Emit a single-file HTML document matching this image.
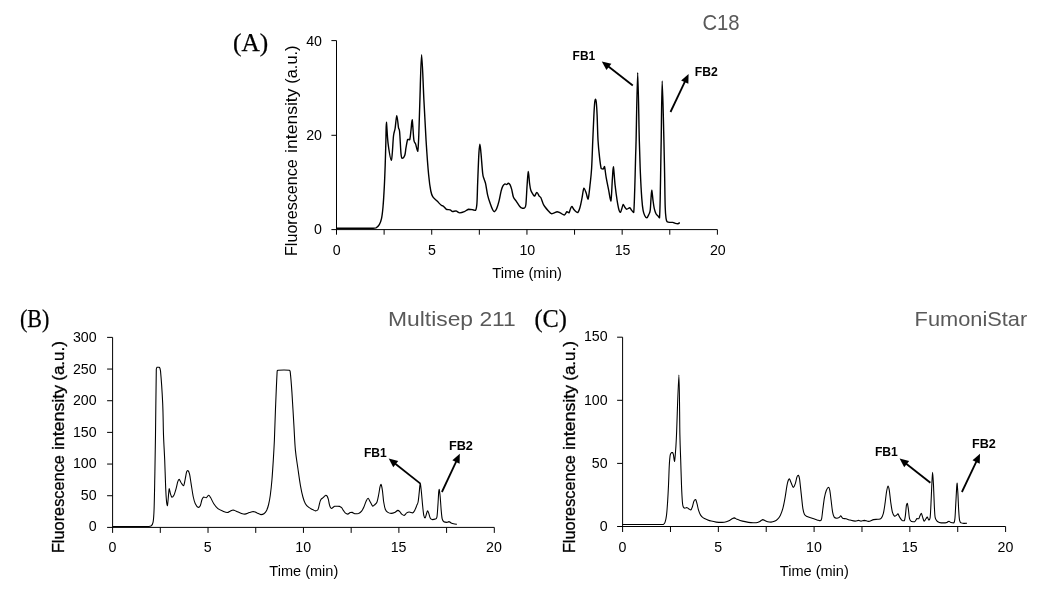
<!DOCTYPE html>
<html><head><meta charset="utf-8"><title>Chromatograms</title>
<style>
html,body{margin:0;padding:0;background:#fff;}
body{width:1053px;height:597px;overflow:hidden;font-family:"Liberation Sans",sans-serif;}
svg{display:block;filter:grayscale(1);}
</style></head><body>
<svg width="1053" height="597" viewBox="0 0 1053 597">
<rect width="1053" height="597" fill="#fff"/>
<g fill="none" stroke="#000" stroke-width="1.0" stroke-linecap="butt"><path d="M336.50 40.60 V229.60" /><path d="M331.40 229.60 H717.40" /><path d="M331.40 135.30 H336.50" /><path d="M331.40 40.60 H336.50" /><path d="M336.50 229.60 V234.70" /><path d="M384.11 229.60 V234.70" /><path d="M431.73 229.60 V234.70" /><path d="M479.34 229.60 V234.70" /><path d="M526.95 229.60 V234.70" /><path d="M574.56 229.60 V234.70" /><path d="M622.17 229.60 V234.70" /><path d="M669.79 229.60 V234.70" /><path d="M717.40 229.60 V234.70" /></g>
<path d="M336.40 228.20 C340.33 228.20 354.07 228.20 360.00 228.20 C365.93 228.20 369.33 228.20 372.00 228.20 C374.67 228.15 374.78 228.20 376.00 227.90 C377.22 227.30 378.38 226.13 379.30 224.60 C380.22 223.07 380.88 221.63 381.50 218.70 C382.12 215.77 382.53 212.30 383.00 207.00 C383.47 201.70 383.93 193.88 384.30 186.90 C384.67 179.92 384.93 172.92 385.20 165.10 C385.47 157.28 385.70 147.17 385.90 140.00 C386.10 132.83 386.03 122.10 386.40 122.10 C386.77 122.70 387.27 137.25 388.10 143.60 C388.93 149.95 390.50 160.20 391.40 160.20 C392.30 158.93 392.88 141.28 393.50 136.00 C394.12 130.72 394.55 131.90 395.10 128.50 C395.65 125.10 396.23 115.75 396.80 115.60 C397.37 115.60 398.03 124.90 398.50 127.60 C398.97 130.30 399.18 127.60 399.60 131.80 C400.02 136.13 400.58 149.17 401.00 153.60 C401.42 158.03 401.47 158.12 402.10 158.40 C402.73 158.40 404.15 157.08 404.80 155.30 C405.45 153.52 405.52 150.35 406.00 147.70 C406.48 145.05 407.08 140.73 407.70 139.40 C408.32 139.40 409.15 139.70 409.70 139.70 C410.25 138.17 410.58 133.52 411.00 130.20 C411.42 126.88 411.72 119.80 412.20 119.80 C412.68 121.47 413.33 136.18 413.90 140.20 C414.47 143.90 414.97 142.03 415.60 143.90 C416.23 145.77 417.17 151.40 417.70 151.40 C418.23 149.92 418.43 143.57 418.80 135.00 C419.17 126.43 419.43 113.38 419.90 100.00 C420.37 86.62 420.93 54.70 421.60 54.70 C422.27 54.70 423.15 85.62 423.90 100.00 C424.65 114.38 425.32 128.58 426.10 141.00 C426.88 153.42 427.82 166.17 428.60 174.50 C429.38 182.83 430.08 187.27 430.80 191.00 C431.52 194.73 431.85 195.22 432.90 196.90 C433.95 198.58 435.70 199.70 437.10 201.10 C438.50 202.50 440.25 204.45 441.30 205.30 C442.35 206.15 442.50 205.50 443.40 206.20 C444.30 206.90 445.58 208.90 446.70 209.50 C447.82 209.80 449.12 209.50 450.10 209.80 C451.08 210.13 451.63 211.32 452.60 211.50 C453.57 211.50 454.70 210.90 455.90 210.90 C457.10 211.13 458.40 212.77 459.80 212.90 C461.20 212.90 462.85 212.32 464.30 211.70 C465.75 211.08 467.10 209.53 468.50 209.20 C469.90 209.20 471.53 209.50 472.70 209.70 C473.87 209.90 474.80 210.40 475.50 210.40 C476.20 209.40 476.53 208.45 476.90 203.70 C477.27 198.95 477.37 190.28 477.70 181.90 C478.03 173.52 478.53 159.68 478.90 153.40 C479.27 147.12 479.55 144.20 479.90 144.20 C480.25 144.20 480.53 148.52 481.00 153.40 C481.47 158.28 482.22 169.32 482.70 173.50 C483.18 177.68 483.42 176.82 483.90 178.50 C484.38 180.18 484.97 180.80 485.60 183.60 C486.23 186.40 486.92 191.95 487.70 195.30 C488.48 198.65 489.45 201.25 490.30 203.70 C491.15 206.15 492.12 208.67 492.80 210.00 C493.48 211.33 493.77 211.70 494.40 211.70 C495.03 211.48 495.83 210.47 496.60 208.70 C497.37 206.93 498.25 204.03 499.00 201.10 C499.75 198.17 500.47 193.60 501.10 191.10 C501.73 188.60 502.15 187.30 502.80 186.10 C503.45 184.90 504.35 184.15 505.00 183.90 C505.65 183.90 506.15 184.60 506.70 184.60 C507.25 184.48 507.75 183.20 508.30 183.20 C508.85 183.20 509.43 183.57 510.00 184.60 C510.57 185.63 511.13 187.33 511.70 189.40 C512.27 191.47 512.65 195.05 513.40 197.00 C514.15 198.95 515.17 199.57 516.20 201.10 C517.23 202.63 518.62 205.02 519.60 206.20 C520.58 207.38 521.27 207.93 522.10 208.20 C522.93 208.20 523.97 208.20 524.60 207.80 C525.23 207.18 525.48 207.80 525.90 204.50 C526.32 200.73 526.70 190.70 527.10 185.20 C527.50 179.70 527.88 171.77 528.30 171.50 C528.72 171.50 529.18 180.47 529.60 183.60 C530.02 186.73 530.23 188.50 530.80 190.30 C531.37 192.10 532.37 193.43 533.00 194.40 C533.63 195.37 533.95 196.10 534.60 196.10 C535.25 195.77 536.13 192.40 536.90 192.40 C537.67 192.40 538.53 195.20 539.20 196.10 C539.87 197.00 540.25 196.53 540.90 197.80 C541.55 199.07 542.40 202.17 543.10 203.70 C543.80 205.23 544.22 205.80 545.10 207.00 C545.98 208.20 547.35 209.78 548.40 210.90 C549.45 212.02 550.42 213.37 551.40 213.70 C552.38 213.70 553.35 213.23 554.30 212.90 C555.25 212.57 556.12 211.70 557.10 211.70 C558.08 211.70 559.00 212.35 560.20 212.90 C561.40 213.45 563.18 215.00 564.30 215.00 C565.42 214.80 566.13 212.05 566.90 211.70 C567.67 211.70 568.30 212.90 568.90 212.90 C569.50 212.40 570.00 209.77 570.50 208.70 C571.00 207.63 571.33 206.50 571.90 206.50 C572.47 206.63 573.20 208.63 573.90 209.50 C574.60 210.37 575.43 211.20 576.10 211.70 C576.77 212.20 577.27 212.50 577.90 212.50 C578.53 211.85 579.23 210.12 579.90 207.80 C580.57 205.48 581.23 201.88 581.90 198.60 C582.57 195.32 583.20 189.07 583.90 188.10 C584.60 188.10 585.40 190.97 586.10 192.80 C586.80 194.63 587.45 199.10 588.10 199.10 C588.75 197.83 589.42 190.30 590.00 185.20 C590.58 180.10 591.13 176.03 591.60 168.50 C592.07 160.97 592.42 148.92 592.80 140.00 C593.18 131.08 593.58 121.25 593.90 115.00 C594.22 108.75 594.43 105.12 594.70 102.50 C594.97 99.88 595.23 99.30 595.50 99.30 C595.77 99.30 596.03 99.88 596.30 102.50 C596.57 105.12 596.82 108.75 597.10 115.00 C597.38 121.25 597.60 133.03 598.00 140.00 C598.40 146.97 598.97 152.05 599.50 156.80 C600.03 161.55 600.58 166.47 601.20 168.50 C601.82 169.00 602.65 169.00 603.20 169.00 C603.75 168.67 604.00 166.50 604.50 166.50 C605.00 167.95 605.50 173.73 606.20 177.70 C606.90 181.67 607.92 186.40 608.70 190.30 C609.48 194.20 610.28 201.10 610.90 201.10 C611.52 199.13 611.98 184.22 612.40 178.50 C612.82 172.78 612.95 166.80 613.40 166.80 C613.85 167.92 614.48 179.62 615.10 185.20 C615.72 190.78 616.43 196.10 617.10 200.30 C617.77 204.50 618.53 208.38 619.10 210.40 C619.67 212.40 620.05 212.40 620.50 212.40 C620.95 212.12 621.35 210.02 621.80 208.70 C622.25 207.38 622.68 204.73 623.20 204.50 C623.72 204.50 624.30 206.52 624.90 207.30 C625.50 208.08 626.00 209.12 626.80 209.20 C627.60 209.20 628.88 207.80 629.70 207.80 C630.52 208.00 631.03 209.62 631.70 210.40 C632.37 211.18 633.20 212.50 633.70 212.50 C634.20 209.15 634.38 199.58 634.70 190.30 C635.02 181.02 635.37 165.18 635.60 156.80 C635.83 148.42 635.75 154.03 636.10 140.00 C636.45 125.97 637.17 72.60 637.70 72.60 C638.23 72.60 638.85 123.18 639.30 140.00 C639.75 156.82 639.98 163.73 640.40 173.50 C640.82 183.27 641.35 192.45 641.80 198.60 C642.25 204.75 642.60 207.55 643.10 210.40 C643.60 213.25 644.18 214.45 644.80 215.70 C645.42 216.95 646.13 217.90 646.80 217.90 C647.47 217.70 648.23 215.75 648.80 214.50 C649.37 213.25 649.83 213.05 650.20 210.40 C650.57 207.75 650.73 201.95 651.00 198.60 C651.27 195.25 651.47 190.30 651.80 190.30 C652.13 190.58 652.58 197.23 653.00 200.30 C653.42 203.37 653.80 206.47 654.30 208.70 C654.80 210.93 655.35 212.45 656.00 213.70 C656.65 214.95 657.62 215.50 658.20 216.20 C658.78 216.90 659.17 217.90 659.50 217.90 C659.83 214.97 659.97 208.78 660.20 198.60 C660.43 188.42 660.73 166.57 660.90 156.80 C661.07 147.03 660.98 152.63 661.20 140.00 C661.42 127.37 661.75 81.00 662.20 81.00 C662.65 81.00 663.50 124.58 663.90 140.00 C664.30 155.42 664.38 162.33 664.60 173.50 C664.82 184.67 664.95 199.47 665.20 207.00 C665.45 214.53 665.77 216.25 666.10 218.70 C666.43 221.15 666.50 221.08 667.20 221.70 C667.90 222.32 669.37 222.28 670.30 222.40 C671.23 222.40 671.97 222.40 672.80 222.40 C673.63 222.57 674.47 223.17 675.30 223.40 C676.13 223.63 677.05 223.80 677.80 223.80 C678.55 223.67 679.47 222.80 679.80 222.60" fill="none" stroke="#000" stroke-width="1.4" stroke-linejoin="round"/>
<text x="322.00" y="234.00" font-size="14.2" text-anchor="end" fill="#000" font-weight="normal" font-family="'Liberation Sans', sans-serif">0</text>
<text x="322.00" y="139.90" font-size="14.2" text-anchor="end" fill="#000" font-weight="normal" font-family="'Liberation Sans', sans-serif">20</text>
<text x="322.00" y="45.90" font-size="14.2" text-anchor="end" fill="#000" font-weight="normal" font-family="'Liberation Sans', sans-serif">40</text>
<text x="336.80" y="254.90" font-size="14.2" text-anchor="middle" fill="#000" font-weight="normal" font-family="'Liberation Sans', sans-serif">0</text>
<text x="432.05" y="254.90" font-size="14.2" text-anchor="middle" fill="#000" font-weight="normal" font-family="'Liberation Sans', sans-serif">5</text>
<text x="527.30" y="254.90" font-size="14.2" text-anchor="middle" fill="#000" font-weight="normal" font-family="'Liberation Sans', sans-serif">10</text>
<text x="622.55" y="254.90" font-size="14.2" text-anchor="middle" fill="#000" font-weight="normal" font-family="'Liberation Sans', sans-serif">15</text>
<text x="717.80" y="254.90" font-size="14.2" text-anchor="middle" fill="#000" font-weight="normal" font-family="'Liberation Sans', sans-serif">20</text>
<text x="527.10" y="277.50" font-size="14.2" text-anchor="middle" fill="#000" font-weight="normal" font-family="'Liberation Sans', sans-serif" textLength="69.8" lengthAdjust="spacingAndGlyphs">Time (min)</text>
<text transform="translate(296.90,256.00) rotate(-90)" font-size="16.0" font-family="'Liberation Sans', sans-serif" textLength="96.7" lengthAdjust="spacingAndGlyphs">Fluorescence</text><text transform="translate(296.90,152.90) rotate(-90)" font-size="16.0" font-family="'Liberation Sans', sans-serif" textLength="64.4" lengthAdjust="spacingAndGlyphs">intensity</text><text transform="translate(296.90,83.70) rotate(-90)" font-size="16.0" font-family="'Liberation Sans', sans-serif" textLength="38.2" lengthAdjust="spacingAndGlyphs">(a.u.)</text>
<text x="233.00" y="50.80" font-size="25" text-anchor="start" fill="#000" font-weight="normal" font-family="'Liberation Serif', serif" textLength="35.2" lengthAdjust="spacingAndGlyphs" stroke="#000" stroke-width="0.25">(A)</text>
<text x="702.40" y="30.10" font-size="22.3" text-anchor="start" fill="#595959" font-weight="normal" font-family="'Liberation Sans', sans-serif" textLength="37.2" lengthAdjust="spacingAndGlyphs">C18</text>
<text x="572.60" y="60.20" font-size="12.8" text-anchor="start" fill="#000" font-weight="bold" font-family="'Liberation Sans', sans-serif" textLength="22.6" lengthAdjust="spacingAndGlyphs">FB1</text>
<text x="694.80" y="76.20" font-size="12.8" text-anchor="start" fill="#000" font-weight="bold" font-family="'Liberation Sans', sans-serif" textLength="23.0" lengthAdjust="spacingAndGlyphs">FB2</text>
<path d="M632.80 85.50 L608.12 66.31" stroke="#000" stroke-width="1.8" fill="none"/><path d="M601.80 61.40 L611.36 63.77 L606.45 70.08 Z" fill="#000"/>
<path d="M670.50 112.00 L685.16 81.22" stroke="#000" stroke-width="1.8" fill="none"/><path d="M688.60 74.00 L688.34 83.85 L681.12 80.41 Z" fill="#000"/>
<g fill="none" stroke="#000" stroke-width="1.0" stroke-linecap="butt"><path d="M112.60 337.40 V527.40" /><path d="M107.10 527.40 H494.30" /><path d="M107.10 495.73 H112.60" /><path d="M107.10 464.06 H112.60" /><path d="M107.10 432.39 H112.60" /><path d="M107.10 400.72 H112.60" /><path d="M107.10 369.05 H112.60" /><path d="M107.10 337.38 H112.60" /><path d="M112.60 527.40 V532.90" /><path d="M160.31 527.40 V532.90" /><path d="M208.03 527.40 V532.90" /><path d="M255.74 527.40 V532.90" /><path d="M303.45 527.40 V532.90" /><path d="M351.16 527.40 V532.90" /><path d="M398.88 527.40 V532.90" /><path d="M446.59 527.40 V532.90" /><path d="M494.30 527.40 V532.90" /></g>
<path d="M112.60 526.45 C117.17 526.45 134.10 526.45 140.00 526.45 C145.90 526.45 146.18 526.45 148.00 526.45 C149.82 526.39 150.05 526.45 150.90 526.10 C151.75 525.38 152.57 525.00 153.10 522.10 C153.63 519.20 153.82 516.23 154.10 508.70 C154.38 501.17 154.57 489.18 154.80 476.90 C155.03 464.62 155.25 452.93 155.50 435.00 C155.75 417.07 156.03 380.58 156.30 369.30 C156.57 367.30 156.60 367.63 157.10 367.30 C157.60 367.30 158.73 367.30 159.30 367.30 C159.87 367.90 159.93 367.30 160.50 370.90 C161.07 376.95 162.20 392.92 162.70 403.60 C163.20 414.28 163.17 425.58 163.50 435.00 C163.83 444.42 164.33 451.17 164.70 460.10 C165.07 469.03 165.40 481.75 165.70 488.60 C166.00 495.45 166.22 498.35 166.50 501.20 C166.78 504.05 167.12 505.70 167.40 505.70 C167.68 505.28 167.90 501.55 168.20 498.70 C168.50 495.85 168.83 489.45 169.20 488.60 C169.57 488.60 169.95 492.15 170.40 493.60 C170.85 495.05 171.32 497.02 171.90 497.30 C172.48 497.30 173.20 496.75 173.90 495.30 C174.60 493.85 175.47 490.83 176.10 488.60 C176.73 486.37 177.20 483.43 177.70 481.90 C178.20 480.37 178.53 479.40 179.10 479.40 C179.67 479.53 180.35 481.63 181.10 482.70 C181.85 483.77 182.90 485.80 183.60 485.80 C184.30 485.12 184.80 480.92 185.30 478.60 C185.80 476.28 186.18 473.25 186.60 471.90 C187.02 470.55 187.32 470.50 187.80 470.50 C188.28 470.83 188.95 471.72 189.50 473.90 C190.05 476.08 190.47 479.75 191.10 483.60 C191.73 487.45 192.60 493.65 193.30 497.00 C194.00 500.35 194.47 501.97 195.30 503.70 C196.13 505.43 197.45 507.12 198.30 507.40 C199.15 507.40 199.78 506.72 200.40 505.40 C201.02 504.08 201.45 500.90 202.00 499.50 C202.55 498.10 203.00 497.28 203.70 497.00 C204.40 497.00 205.37 497.80 206.20 497.80 C207.03 497.52 207.95 495.30 208.70 495.30 C209.45 495.30 209.85 496.40 210.70 497.80 C211.55 499.20 212.60 501.88 213.80 503.70 C215.00 505.52 216.37 507.45 217.90 508.70 C219.43 509.95 221.45 510.57 223.00 511.20 C224.55 511.83 226.02 512.50 227.20 512.50 C228.38 512.50 229.12 511.62 230.10 511.20 C231.08 510.78 231.98 510.00 233.10 510.00 C234.22 510.05 235.50 510.97 236.80 511.50 C238.10 512.03 239.57 512.77 240.90 513.20 C242.23 513.63 243.40 514.10 244.80 514.10 C246.20 514.00 247.90 513.03 249.30 512.60 C250.70 512.17 251.93 511.50 253.20 511.50 C254.47 511.55 255.60 512.38 256.90 512.90 C258.20 513.42 259.83 514.47 261.00 514.60 C262.17 514.60 262.97 514.40 263.90 513.70 C264.83 513.00 265.82 511.93 266.60 510.40 C267.38 508.87 267.98 507.02 268.60 504.50 C269.22 501.98 269.75 499.35 270.30 495.30 C270.85 491.25 271.40 486.07 271.90 480.20 C272.40 474.33 272.88 466.80 273.30 460.10 C273.72 453.40 274.03 448.58 274.40 440.00 C274.77 431.42 275.03 420.12 275.50 408.60 C275.97 397.08 276.75 377.28 277.20 370.90 C277.65 370.30 277.20 370.45 278.20 370.30 C279.33 370.15 282.13 370.00 284.00 370.00 C285.87 370.00 288.35 370.00 289.40 370.30 C290.30 370.73 289.88 370.30 290.30 372.60 C290.72 376.20 291.30 383.10 291.90 391.90 C292.50 400.70 293.32 415.70 293.90 425.40 C294.48 435.10 294.73 442.92 295.40 450.10 C296.07 457.28 297.07 462.63 297.90 468.50 C298.73 474.37 299.57 480.55 300.40 485.30 C301.23 490.05 302.07 493.93 302.90 497.00 C303.73 500.07 304.42 501.97 305.40 503.70 C306.38 505.43 307.58 506.42 308.80 507.40 C310.02 508.38 311.60 509.02 312.70 509.60 C313.80 510.18 314.57 510.83 315.40 510.90 C316.23 510.90 317.15 510.60 317.70 510.00 C318.25 509.40 318.42 508.27 318.70 507.30 C318.98 506.33 319.15 505.23 319.40 504.20 C319.65 503.17 319.90 501.93 320.20 501.10 C320.50 500.27 320.72 499.78 321.20 499.20 C321.68 498.62 322.53 498.12 323.10 497.60 C323.67 497.08 324.15 496.50 324.60 496.10 C325.05 495.70 325.38 495.20 325.80 495.20 C326.22 495.20 326.68 495.43 327.10 496.10 C327.52 496.77 327.93 497.85 328.30 499.20 C328.67 500.55 328.98 502.92 329.30 504.20 C329.62 505.48 329.82 506.20 330.20 506.90 C330.58 507.60 331.12 508.33 331.60 508.40 C332.08 508.40 332.58 507.65 333.10 507.30 C333.62 506.95 334.05 506.47 334.70 506.30 C335.35 506.30 336.17 506.30 337.00 506.30 C337.83 506.32 338.93 506.30 339.70 506.40 C340.47 506.63 340.97 507.00 341.60 507.70 C342.23 508.40 342.90 509.73 343.50 510.60 C344.10 511.47 344.50 512.32 345.20 512.90 C345.90 513.48 346.87 514.10 347.70 514.10 C348.53 514.05 349.45 512.88 350.20 512.60 C350.95 512.40 351.42 512.40 352.20 512.40 C352.98 512.58 353.83 513.53 354.90 513.70 C355.97 513.70 357.48 513.70 358.60 513.40 C359.72 512.98 360.72 512.27 361.60 511.20 C362.48 510.13 363.15 508.67 363.90 507.00 C364.65 505.33 365.40 502.65 366.10 501.20 C366.80 499.75 367.40 498.30 368.10 498.30 C368.80 498.43 369.52 500.68 370.30 502.00 C371.08 503.32 372.02 505.78 372.80 506.20 C373.58 506.20 374.30 505.20 375.00 504.50 C375.70 503.80 376.38 503.67 377.00 502.00 C377.62 500.33 378.20 497.02 378.70 494.50 C379.20 491.98 379.62 488.58 380.00 486.90 C380.38 485.22 380.60 484.40 381.00 484.40 C381.40 484.97 381.95 487.37 382.40 490.30 C382.85 493.23 383.20 498.80 383.70 502.00 C384.20 505.20 384.70 507.77 385.40 509.50 C386.10 511.23 386.93 511.75 387.90 512.40 C388.87 513.05 390.08 513.37 391.20 513.40 C392.32 513.40 393.48 513.10 394.60 512.60 C395.72 512.10 396.97 510.47 397.90 510.40 C398.83 510.40 399.57 511.58 400.20 512.20 C400.83 512.82 401.03 513.57 401.70 514.10 C402.37 514.63 403.37 515.40 404.20 515.40 C405.03 515.20 405.87 513.47 406.70 512.90 C407.53 512.33 408.22 512.00 409.20 512.00 C410.18 512.00 411.68 512.90 412.60 512.90 C413.52 512.63 414.00 511.65 414.70 510.40 C415.40 509.15 416.23 506.80 416.80 505.40 C417.37 504.00 417.72 503.97 418.10 502.00 C418.48 500.03 418.80 496.38 419.10 493.60 C419.40 490.82 419.68 486.97 419.90 485.30 C420.12 483.63 420.15 483.60 420.40 483.60 C420.65 484.72 421.03 488.37 421.40 492.00 C421.77 495.63 422.20 501.50 422.60 505.40 C423.00 509.30 423.38 513.32 423.80 515.40 C424.22 517.48 424.65 517.90 425.10 517.90 C425.55 517.62 426.08 514.90 426.50 513.70 C426.92 512.50 427.22 510.75 427.60 510.70 C427.98 510.70 428.37 512.20 428.80 513.40 C429.23 514.60 429.63 516.87 430.20 517.90 C430.77 518.93 431.37 519.40 432.20 519.60 C433.03 519.60 434.42 519.52 435.20 519.10 C435.98 518.68 436.45 519.10 436.90 517.10 C437.35 514.82 437.60 509.58 437.90 505.40 C438.20 501.22 438.48 494.67 438.70 492.00 C438.92 489.40 438.95 489.40 439.20 489.40 C439.45 490.23 439.87 493.50 440.20 497.00 C440.53 500.50 440.87 506.77 441.20 510.40 C441.53 514.03 441.75 516.90 442.20 518.80 C442.65 520.70 443.12 521.20 443.90 521.80 C444.68 522.40 446.07 522.40 446.90 522.40 C447.73 522.37 448.20 521.60 448.90 521.60 C449.60 521.68 450.32 522.53 451.10 522.90 C451.88 523.27 452.63 523.57 453.60 523.80 C454.57 524.03 456.35 524.22 456.90 524.30" fill="none" stroke="#000" stroke-width="1.08" stroke-linejoin="round"/>
<text x="96.60" y="531.00" font-size="14.2" text-anchor="end" fill="#000" font-weight="normal" font-family="'Liberation Sans', sans-serif">0</text>
<text x="96.60" y="499.53" font-size="14.2" text-anchor="end" fill="#000" font-weight="normal" font-family="'Liberation Sans', sans-serif">50</text>
<text x="96.60" y="468.06" font-size="14.2" text-anchor="end" fill="#000" font-weight="normal" font-family="'Liberation Sans', sans-serif">100</text>
<text x="96.60" y="436.59" font-size="14.2" text-anchor="end" fill="#000" font-weight="normal" font-family="'Liberation Sans', sans-serif">150</text>
<text x="96.60" y="405.12" font-size="14.2" text-anchor="end" fill="#000" font-weight="normal" font-family="'Liberation Sans', sans-serif">200</text>
<text x="96.60" y="373.65" font-size="14.2" text-anchor="end" fill="#000" font-weight="normal" font-family="'Liberation Sans', sans-serif">250</text>
<text x="96.60" y="342.18" font-size="14.2" text-anchor="end" fill="#000" font-weight="normal" font-family="'Liberation Sans', sans-serif">300</text>
<text x="112.40" y="552.00" font-size="14.2" text-anchor="middle" fill="#000" font-weight="normal" font-family="'Liberation Sans', sans-serif">0</text>
<text x="207.80" y="552.00" font-size="14.2" text-anchor="middle" fill="#000" font-weight="normal" font-family="'Liberation Sans', sans-serif">5</text>
<text x="303.20" y="552.00" font-size="14.2" text-anchor="middle" fill="#000" font-weight="normal" font-family="'Liberation Sans', sans-serif">10</text>
<text x="398.60" y="552.00" font-size="14.2" text-anchor="middle" fill="#000" font-weight="normal" font-family="'Liberation Sans', sans-serif">15</text>
<text x="494.00" y="552.00" font-size="14.2" text-anchor="middle" fill="#000" font-weight="normal" font-family="'Liberation Sans', sans-serif">20</text>
<text x="303.80" y="575.80" font-size="14.2" text-anchor="middle" fill="#000" font-weight="normal" font-family="'Liberation Sans', sans-serif" textLength="69.0" lengthAdjust="spacingAndGlyphs">Time (min)</text>
<text transform="translate(64.10,553.10) rotate(-90)" font-size="16.0" font-family="'Liberation Sans', sans-serif" textLength="98.0" lengthAdjust="spacingAndGlyphs" stroke="#000" stroke-width="0.3">Fluorescence</text><text transform="translate(64.10,450.10) rotate(-90)" font-size="16.0" font-family="'Liberation Sans', sans-serif" textLength="65.2" lengthAdjust="spacingAndGlyphs" stroke="#000" stroke-width="0.3">intensity</text><text transform="translate(64.10,380.80) rotate(-90)" font-size="16.0" font-family="'Liberation Sans', sans-serif" textLength="39.8" lengthAdjust="spacingAndGlyphs" stroke="#000" stroke-width="0.3">(a.u.)</text>
<text x="20.00" y="326.80" font-size="25" text-anchor="start" fill="#000" font-weight="normal" font-family="'Liberation Serif', serif" textLength="29.4" lengthAdjust="spacingAndGlyphs" stroke="#000" stroke-width="0.25">(B)</text>
<text x="388.00" y="325.90" font-size="20.8" text-anchor="start" fill="#595959" font-weight="normal" font-family="'Liberation Sans', sans-serif" textLength="127.8" lengthAdjust="spacingAndGlyphs">Multisep 211</text>
<text x="363.90" y="456.80" font-size="12.8" text-anchor="start" fill="#000" font-weight="bold" font-family="'Liberation Sans', sans-serif" textLength="22.8" lengthAdjust="spacingAndGlyphs">FB1</text>
<text x="448.90" y="449.70" font-size="12.8" text-anchor="start" fill="#000" font-weight="bold" font-family="'Liberation Sans', sans-serif" textLength="24.0" lengthAdjust="spacingAndGlyphs">FB2</text>
<path d="M420.40 483.60 L394.97 463.47" stroke="#000" stroke-width="1.8" fill="none"/><path d="M388.70 458.50 L398.24 460.95 L393.27 467.22 Z" fill="#000"/>
<path d="M441.90 492.00 L456.41 461.04" stroke="#000" stroke-width="1.8" fill="none"/><path d="M459.80 453.80 L459.60 463.65 L452.36 460.25 Z" fill="#000"/>
<g fill="none" stroke="#000" stroke-width="1.0" stroke-linecap="butt"><path d="M622.60 337.20 V526.50" /><path d="M617.10 526.50 H1005.60" /><path d="M617.10 463.40 H622.60" /><path d="M617.10 400.30 H622.60" /><path d="M617.10 337.20 H622.60" /><path d="M622.60 526.50 V532.00" /><path d="M670.48 526.50 V532.00" /><path d="M718.35 526.50 V532.00" /><path d="M766.23 526.50 V532.00" /><path d="M814.10 526.50 V532.00" /><path d="M861.98 526.50 V532.00" /><path d="M909.85 526.50 V532.00" /><path d="M957.73 526.50 V532.00" /><path d="M1005.60 526.50 V532.00" /></g>
<path d="M622.60 524.50 C627.17 524.50 643.60 524.50 650.00 524.50 C656.40 524.50 658.75 524.50 661.00 524.50 C663.25 524.48 662.82 524.50 663.50 524.40 C664.18 524.00 664.60 523.60 665.10 522.10 C665.60 520.60 666.08 518.75 666.50 515.40 C666.92 512.05 667.27 507.02 667.60 502.00 C667.93 496.98 668.22 491.43 668.50 485.30 C668.78 479.17 669.02 470.23 669.30 465.20 C669.58 460.17 669.83 457.20 670.20 455.10 C670.57 453.00 671.08 453.02 671.50 452.60 C671.92 452.60 672.37 452.60 672.70 452.60 C673.03 453.02 673.20 453.62 673.50 455.10 C673.80 456.58 674.17 461.50 674.50 461.50 C674.83 460.95 675.17 456.22 675.50 451.80 C675.83 447.38 675.93 447.78 676.50 435.00 C677.07 422.22 678.33 375.10 678.90 375.10 C679.47 375.10 679.60 420.83 679.90 435.00 C680.20 449.17 680.43 451.72 680.70 460.10 C680.97 468.48 681.22 478.32 681.50 485.30 C681.78 492.28 682.12 498.43 682.40 502.00 C682.68 505.57 682.78 505.67 683.20 506.70 C683.62 507.73 684.33 508.07 684.90 508.20 C685.47 508.20 685.98 507.50 686.60 507.50 C687.22 507.58 687.90 508.30 688.60 508.70 C689.30 509.10 690.18 509.90 690.80 509.90 C691.42 509.62 691.78 508.45 692.30 507.00 C692.82 505.55 693.35 502.45 693.90 501.20 C694.45 499.95 695.08 499.50 695.60 499.50 C696.12 499.92 696.50 501.88 697.00 503.70 C697.50 505.52 698.00 508.50 698.60 510.40 C699.20 512.30 699.82 513.85 700.60 515.10 C701.38 516.35 702.23 517.15 703.30 517.90 C704.37 518.65 705.68 519.07 707.00 519.60 C708.32 520.13 709.67 520.68 711.20 521.10 C712.73 521.52 714.38 521.88 716.20 522.10 C718.02 522.32 720.42 522.40 722.10 522.40 C723.78 522.35 725.05 522.13 726.30 521.80 C727.55 521.47 728.63 520.90 729.60 520.40 C730.57 519.90 731.32 519.22 732.10 518.80 C732.88 518.38 733.48 517.90 734.30 517.90 C735.12 517.98 736.03 518.88 737.00 519.30 C737.97 519.72 738.75 520.02 740.10 520.40 C741.45 520.78 743.30 521.23 745.10 521.60 C746.90 521.97 749.08 522.40 750.90 522.60 C752.72 522.80 754.60 522.80 756.00 522.80 C757.40 522.67 758.18 522.33 759.30 521.80 C760.42 521.27 761.72 519.77 762.70 519.60 C763.68 519.60 764.37 520.43 765.20 520.80 C766.03 521.17 766.73 521.58 767.70 521.80 C768.67 522.02 769.88 522.10 771.00 522.10 C772.12 522.02 773.33 521.77 774.40 521.30 C775.47 520.83 776.42 520.28 777.40 519.30 C778.38 518.32 779.40 517.17 780.30 515.40 C781.20 513.63 782.03 511.48 782.80 508.70 C783.57 505.92 784.20 502.60 784.90 498.70 C785.60 494.80 786.43 488.38 787.00 485.30 C787.57 482.22 787.88 481.27 788.30 480.20 C788.72 479.13 789.03 478.90 789.50 478.90 C789.97 479.32 790.47 481.28 791.10 482.70 C791.73 484.12 792.60 487.25 793.30 487.40 C794.00 487.40 794.68 485.35 795.30 483.60 C795.92 481.85 796.50 478.30 797.00 476.90 C797.50 475.50 797.88 475.20 798.30 475.20 C798.72 475.48 799.02 475.53 799.50 478.60 C799.98 481.67 800.63 488.58 801.20 493.60 C801.77 498.62 802.35 505.20 802.90 508.70 C803.45 512.20 803.80 513.28 804.50 514.60 C805.20 515.92 805.83 515.98 807.10 516.60 C808.37 517.22 810.43 517.75 812.10 518.30 C813.77 518.85 815.77 519.48 817.10 519.90 C818.43 520.32 819.35 520.80 820.10 520.80 C820.85 520.62 821.15 520.68 821.60 518.80 C822.05 516.92 822.33 513.00 822.80 509.50 C823.27 506.00 823.82 500.97 824.40 497.80 C824.98 494.63 825.62 492.25 826.30 490.50 C826.98 488.75 827.92 487.33 828.50 487.30 C829.08 487.30 829.37 488.13 829.80 490.30 C830.23 492.47 830.63 496.67 831.10 500.30 C831.57 503.93 832.08 509.30 832.60 512.10 C833.12 514.90 833.50 516.08 834.20 517.10 C834.90 518.12 835.95 518.15 836.80 518.20 C837.65 518.20 838.63 517.82 839.30 517.40 C839.97 516.98 840.25 515.70 840.80 515.70 C841.35 515.83 841.73 517.68 842.60 518.20 C843.47 518.72 844.73 518.48 846.00 518.80 C847.27 519.12 848.67 519.72 850.20 520.10 C851.73 520.48 853.82 521.05 855.20 521.10 C856.58 521.10 857.53 520.40 858.50 520.40 C859.47 520.40 860.02 521.10 861.00 521.10 C861.98 521.10 863.13 520.40 864.40 520.40 C865.67 520.45 867.07 521.40 868.60 521.40 C870.13 521.27 872.07 519.95 873.60 519.60 C875.13 519.30 876.55 519.50 877.80 519.30 C879.05 519.10 880.18 519.30 881.10 518.40 C882.02 517.47 882.65 516.15 883.30 513.70 C883.95 511.25 884.47 507.32 885.00 503.70 C885.53 500.08 886.00 494.93 886.50 492.00 C887.00 489.07 887.53 486.38 888.00 486.10 C888.47 486.10 888.85 487.65 889.30 490.30 C889.75 492.95 890.18 498.37 890.70 502.00 C891.22 505.63 891.77 509.73 892.40 512.10 C893.03 514.47 893.78 515.70 894.50 516.20 C895.22 516.20 896.13 515.52 896.70 515.10 C897.27 514.68 897.42 513.70 897.90 513.70 C898.38 514.03 898.90 515.98 899.60 517.10 C900.30 518.22 901.32 519.78 902.10 520.40 C902.88 520.80 903.75 520.80 904.30 520.80 C904.85 519.97 905.05 517.97 905.40 515.40 C905.75 512.83 906.08 507.43 906.40 505.40 C906.72 503.37 906.98 503.20 907.30 503.20 C907.62 503.75 907.92 506.10 908.30 508.70 C908.68 511.30 909.02 516.65 909.60 518.80 C910.18 520.95 910.97 521.10 911.80 521.60 C912.63 521.80 913.73 521.80 914.60 521.80 C915.47 521.28 916.32 519.00 917.00 518.50 C917.68 518.50 918.18 518.80 918.70 518.80 C919.22 518.28 919.65 516.30 920.10 515.40 C920.55 514.50 920.98 513.40 921.40 513.40 C921.82 513.68 922.13 515.78 922.60 517.10 C923.07 518.42 923.65 521.02 924.20 521.30 C924.75 521.30 925.38 519.50 925.90 518.80 C926.42 518.10 926.82 517.10 927.30 517.10 C927.78 517.32 928.33 519.97 928.80 520.10 C929.27 520.10 929.75 520.10 930.10 517.90 C930.45 515.45 930.62 510.83 930.90 505.40 C931.18 499.97 931.52 490.83 931.80 485.30 C932.08 479.77 932.32 472.20 932.60 472.20 C932.88 472.20 933.22 479.77 933.50 485.30 C933.78 490.83 934.03 500.10 934.30 505.40 C934.57 510.70 934.68 514.53 935.10 517.10 C935.52 519.67 936.10 519.92 936.80 520.80 C937.50 521.68 938.18 522.05 939.30 522.40 C940.42 522.75 942.23 522.90 943.50 522.90 C944.77 522.90 946.00 522.67 946.90 522.40 C947.80 522.13 948.22 521.30 948.90 521.30 C949.58 521.33 950.17 522.33 951.00 522.60 C951.83 522.87 953.25 522.90 953.90 522.90 C954.55 522.27 954.60 521.72 954.90 518.80 C955.20 515.88 955.42 510.43 955.70 505.40 C955.98 500.37 956.37 492.32 956.60 488.60 C956.83 484.88 956.88 483.10 957.10 483.10 C957.32 483.93 957.63 489.05 957.90 493.60 C958.17 498.15 958.42 505.93 958.70 510.40 C958.98 514.87 959.20 518.32 959.60 520.40 C960.00 522.48 960.30 522.40 961.10 522.90 C961.90 523.40 963.42 523.33 964.40 523.40 C965.38 523.40 966.57 523.32 967.00 523.30" fill="none" stroke="#000" stroke-width="1.08" stroke-linejoin="round"/>
<text x="607.60" y="531.00" font-size="14.2" text-anchor="end" fill="#000" font-weight="normal" font-family="'Liberation Sans', sans-serif">0</text>
<text x="607.60" y="467.80" font-size="14.2" text-anchor="end" fill="#000" font-weight="normal" font-family="'Liberation Sans', sans-serif">50</text>
<text x="607.60" y="404.60" font-size="14.2" text-anchor="end" fill="#000" font-weight="normal" font-family="'Liberation Sans', sans-serif">100</text>
<text x="607.60" y="340.90" font-size="14.2" text-anchor="end" fill="#000" font-weight="normal" font-family="'Liberation Sans', sans-serif">150</text>
<text x="622.50" y="552.00" font-size="14.2" text-anchor="middle" fill="#000" font-weight="normal" font-family="'Liberation Sans', sans-serif">0</text>
<text x="718.25" y="552.00" font-size="14.2" text-anchor="middle" fill="#000" font-weight="normal" font-family="'Liberation Sans', sans-serif">5</text>
<text x="814.00" y="552.00" font-size="14.2" text-anchor="middle" fill="#000" font-weight="normal" font-family="'Liberation Sans', sans-serif">10</text>
<text x="909.75" y="552.00" font-size="14.2" text-anchor="middle" fill="#000" font-weight="normal" font-family="'Liberation Sans', sans-serif">15</text>
<text x="1005.50" y="552.00" font-size="14.2" text-anchor="middle" fill="#000" font-weight="normal" font-family="'Liberation Sans', sans-serif">20</text>
<text x="814.30" y="575.80" font-size="14.2" text-anchor="middle" fill="#000" font-weight="normal" font-family="'Liberation Sans', sans-serif" textLength="69.0" lengthAdjust="spacingAndGlyphs">Time (min)</text>
<text transform="translate(575.00,553.10) rotate(-90)" font-size="16.0" font-family="'Liberation Sans', sans-serif" textLength="98.0" lengthAdjust="spacingAndGlyphs" stroke="#000" stroke-width="0.3">Fluorescence</text><text transform="translate(575.00,450.10) rotate(-90)" font-size="16.0" font-family="'Liberation Sans', sans-serif" textLength="65.2" lengthAdjust="spacingAndGlyphs" stroke="#000" stroke-width="0.3">intensity</text><text transform="translate(575.00,380.80) rotate(-90)" font-size="16.0" font-family="'Liberation Sans', sans-serif" textLength="39.8" lengthAdjust="spacingAndGlyphs" stroke="#000" stroke-width="0.3">(a.u.)</text>
<text x="534.40" y="326.80" font-size="25" text-anchor="start" fill="#000" font-weight="normal" font-family="'Liberation Serif', serif" textLength="32.4" lengthAdjust="spacingAndGlyphs" stroke="#000" stroke-width="0.25">(C)</text>
<text x="914.60" y="325.80" font-size="20.8" text-anchor="start" fill="#595959" font-weight="normal" font-family="'Liberation Sans', sans-serif" textLength="112.6" lengthAdjust="spacingAndGlyphs">FumoniStar</text>
<text x="874.90" y="455.90" font-size="12.8" text-anchor="start" fill="#000" font-weight="bold" font-family="'Liberation Sans', sans-serif" textLength="23.0" lengthAdjust="spacingAndGlyphs">FB1</text>
<text x="972.00" y="447.90" font-size="12.8" text-anchor="start" fill="#000" font-weight="bold" font-family="'Liberation Sans', sans-serif" textLength="23.8" lengthAdjust="spacingAndGlyphs">FB2</text>
<path d="M930.40 482.70 L905.89 463.44" stroke="#000" stroke-width="1.8" fill="none"/><path d="M899.60 458.50 L909.15 460.92 L904.21 467.21 Z" fill="#000"/>
<path d="M961.90 492.00 L976.57 461.03" stroke="#000" stroke-width="1.8" fill="none"/><path d="M980.00 453.80 L979.76 463.65 L972.53 460.22 Z" fill="#000"/>
</svg>
</body></html>
